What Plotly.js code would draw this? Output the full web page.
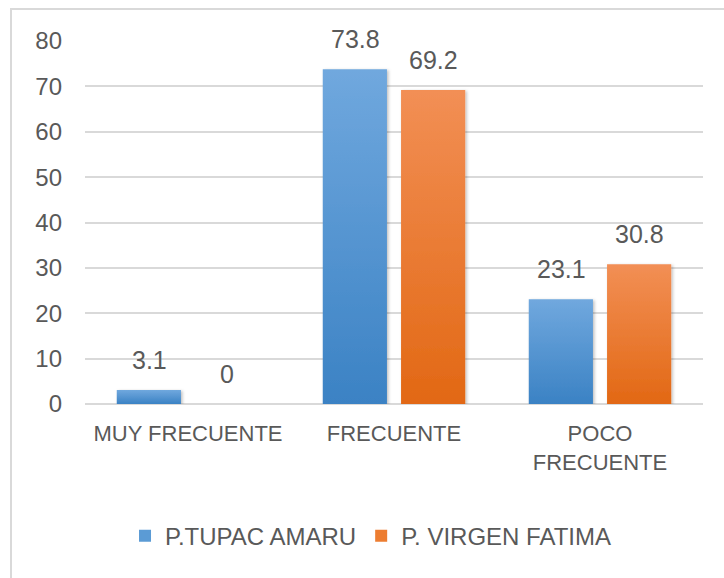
<!DOCTYPE html>
<html>
<head>
<meta charset="utf-8">
<script src="https://cdn.plot.ly/plotly-3.0.1.min.js"></script>
<style>
  html, body { margin: 0; padding: 0; background: #ffffff; }
  #frame { position: absolute; left: 10px; top: 8px; width: 740px; height: 600px; border: 2px solid #d9d9d9; box-sizing: border-box; }
  #chart { position: absolute; left: 0; top: 0; width: 724px; height: 578px; }
</style>
</head>
<body>
<div id="frame"></div>
<div id="chart"></div>
<script>
const categories = ["MUY FRECUENTE", "FRECUENTE", "POCO<br>FRECUENTE"];
const seriesNames = ["P.TUPAC AMARU", "P. VIRGEN FATIMA"];
const tupacValues = [3.1, 73.8, 23.1];
const virgenValues = [0, 69.2, 30.8];
const yTicks = [0, 10, 20, 30, 40, 50, 60, 70, 80];

const fontFamily = "'Liberation Sans', Arial, sans-serif";
const textColor = "#595959";

const traces = [
  { type: "bar", name: seriesNames[0], x: categories, y: tupacValues,
    marker: { color: "#5b9bd5" }, hoverinfo: "none" },
  { type: "bar", name: seriesNames[1], x: categories, y: virgenValues,
    marker: { color: "#ed7d31" }, hoverinfo: "none" }
];

const annotations = [];
[tupacValues, virgenValues].forEach((vals, si) => {
  vals.forEach((v, i) => {
    annotations.push({
      x: categories[i], y: v, xref: "x", yref: "y",
      text: String(v), showarrow: false,
      yanchor: "bottom", yshift: 14, xshift: si === 0 ? -39 : 39,
      font: { family: fontFamily, size: 25, color: textColor }
    });
  });
});

const layout = {
  width: 724, height: 578,
  margin: { l: 85, r: 21, t: 41, b: 174 },
  paper_bgcolor: "rgba(0,0,0,0)",
  plot_bgcolor: "rgba(0,0,0,0)",
  barmode: "group",
  bargap: 0.24,
  bargroupgap: 0.18,
  showlegend: true,
  legend: {
    orientation: "h", x: 0.462, xanchor: "center", y: -0.364, yanchor: "middle",
    font: { family: fontFamily, size: 24, color: textColor },
    itemwidth: 30
  },
  xaxis: {
    type: "category",
    showline: false, showgrid: false, zeroline: false,
    ticks: "", ticklabelstandoff: 14,
    tickfont: { family: fontFamily, size: 22, color: textColor }
  },
  yaxis: {
    range: [0, 80], tickvals: yTicks, ticktext: yTicks.map(String),
    showline: false, ticks: "",
    gridcolor: "#d9d9d9", gridwidth: 2,
    zeroline: true, zerolinecolor: "#d9d9d9", zerolinewidth: 2,
    ticklabelstandoff: 22,
    tickfont: { family: fontFamily, size: 24, color: textColor }
  },
  annotations: annotations
};

Plotly.newPlot("chart", traces, layout, { displayModeBar: false, staticPlot: true }).then(gd => {
  const svg = gd.querySelector("svg.main-svg");
  const ns = "http://www.w3.org/2000/svg";
  let defs = svg.querySelector("defs");
  if (!defs) { defs = document.createElementNS(ns, "defs"); svg.insertBefore(defs, svg.firstChild); }
  const grads = [["gBlue", "#70a8de", "#3b82c4"], ["gOrange", "#f28f55", "#e26814"]];
  grads.forEach(([id, c1, c2]) => {
    const lg = document.createElementNS(ns, "linearGradient");
    lg.setAttribute("id", id);
    lg.setAttribute("x1", "0"); lg.setAttribute("y1", "0");
    lg.setAttribute("x2", "0"); lg.setAttribute("y2", "1");
    const s1 = document.createElementNS(ns, "stop"); s1.setAttribute("offset", "0"); s1.setAttribute("stop-color", c1);
    const s2 = document.createElementNS(ns, "stop"); s2.setAttribute("offset", "1"); s2.setAttribute("stop-color", c2);
    lg.appendChild(s1); lg.appendChild(s2); defs.appendChild(lg);
  });
  const filt = document.createElementNS(ns, "filter");
  filt.setAttribute("id", "bshadow");
  filt.setAttribute("x", "-20%"); filt.setAttribute("y", "-20%");
  filt.setAttribute("width", "140%"); filt.setAttribute("height", "140%");
  const ds = document.createElementNS(ns, "feDropShadow");
  ds.setAttribute("dx", "1.5"); ds.setAttribute("dy", "1"); ds.setAttribute("stdDeviation", "1.5");
  ds.setAttribute("flood-color", "#000"); ds.setAttribute("flood-opacity", "0.25");
  filt.appendChild(ds); defs.appendChild(filt);
  const traceGroups = svg.querySelectorAll(".barlayer .trace");
  traceGroups.forEach((tg, i) => {
    tg.querySelectorAll(".point path").forEach(p => {
      p.style.fill = i === 0 ? "url(#gBlue)" : "url(#gOrange)";
      p.setAttribute("filter", "url(#bshadow)");
    });
  });
  svg.querySelectorAll(".legend .traces").forEach((tg, i) => {
    tg.querySelectorAll(".legendpoints path").forEach(p => {
      p.style.fill = i === 0 ? "url(#gBlue)" : "url(#gOrange)";
    });
  });
});
</script>
</body>
</html>
